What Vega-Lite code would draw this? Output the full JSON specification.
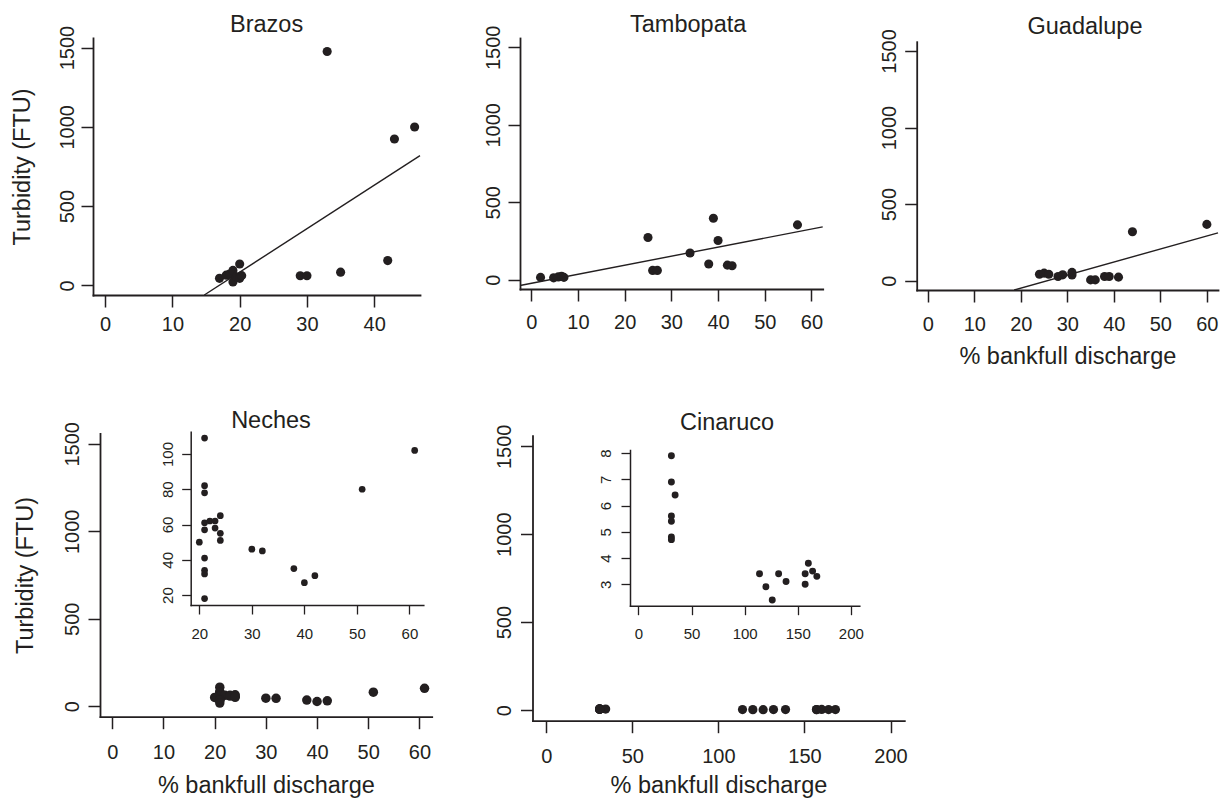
{
  "$schema": "https://vega.github.io/schema/vega-lite/v6.json",
  "width": 1225,
  "height": 799,
  "padding": 0,
  "autosize": {"type": "none"},
  "background": "white",
  "config": {
    "view": {"stroke": null},
    "font": "Liberation Sans",
    "axis": {
      "grid": false,
      "format": "d",
      "domainColor": "#231f20",
      "domainWidth": 1.8,
      "domainCap": "square",
      "tickColor": "#231f20",
      "tickWidth": 1.5,
      "labelColor": "#231f20",
      "labelFont": "Liberation Sans",
      "labelFlush": false,
      "labelOverlap": false,
      "labelBound": false,
      "titleColor": "#231f20",
      "titleFont": "Liberation Sans",
      "titleFontWeight": "normal",
      "titleFontSize": 23.5
    }
  },
  "datasets": {
    "brazos": [
      {"discharge": 17, "turbidity": 45}, {"discharge": 18, "turbidity": 65}, {"discharge": 18.5, "turbidity": 72},
      {"discharge": 19, "turbidity": 95}, {"discharge": 19, "turbidity": 22}, {"discharge": 19.5, "turbidity": 55},
      {"discharge": 20, "turbidity": 45}, {"discharge": 20, "turbidity": 135}, {"discharge": 20.3, "turbidity": 62},
      {"discharge": 29, "turbidity": 61}, {"discharge": 30, "turbidity": 61}, {"discharge": 33, "turbidity": 1475},
      {"discharge": 35, "turbidity": 84}, {"discharge": 42, "turbidity": 157}, {"discharge": 43, "turbidity": 923},
      {"discharge": 46, "turbidity": 999}
    ],
    "brazos_fit": [{"discharge": 14.74, "turbidity": -60}, {"discharge": 46.8, "turbidity": 818}],
    "tambopata": [
      {"discharge": 2, "turbidity": 15}, {"discharge": 4.8, "turbidity": 12}, {"discharge": 5.8, "turbidity": 18},
      {"discharge": 6.5, "turbidity": 22}, {"discharge": 7, "turbidity": 15}, {"discharge": 25, "turbidity": 272},
      {"discharge": 26, "turbidity": 60}, {"discharge": 27, "turbidity": 60}, {"discharge": 34, "turbidity": 172},
      {"discharge": 38, "turbidity": 101}, {"discharge": 39, "turbidity": 397}, {"discharge": 40, "turbidity": 253},
      {"discharge": 42, "turbidity": 94}, {"discharge": 43, "turbidity": 90}, {"discharge": 57, "turbidity": 354}
    ],
    "tambopata_fit": [{"discharge": -2.4, "turbidity": -37.5}, {"discharge": 62.4, "turbidity": 341}],
    "guadalupe": [
      {"discharge": 24, "turbidity": 43}, {"discharge": 25, "turbidity": 50}, {"discharge": 26, "turbidity": 43},
      {"discharge": 28, "turbidity": 28}, {"discharge": 29, "turbidity": 39}, {"discharge": 31, "turbidity": 55},
      {"discharge": 31, "turbidity": 38}, {"discharge": 35, "turbidity": 6}, {"discharge": 36, "turbidity": 6},
      {"discharge": 38, "turbidity": 28}, {"discharge": 39, "turbidity": 28}, {"discharge": 41, "turbidity": 24},
      {"discharge": 44, "turbidity": 320}, {"discharge": 60, "turbidity": 368}
    ],
    "guadalupe_fit": [{"discharge": 18.57, "turbidity": -60}, {"discharge": 62.4, "turbidity": 313}],
    "neches": [
      {"discharge": 21, "turbidity": 109}, {"discharge": 21, "turbidity": 82}, {"discharge": 21, "turbidity": 78},
      {"discharge": 21, "turbidity": 61}, {"discharge": 21, "turbidity": 57}, {"discharge": 20, "turbidity": 50},
      {"discharge": 22, "turbidity": 62}, {"discharge": 23, "turbidity": 62}, {"discharge": 23, "turbidity": 58},
      {"discharge": 24, "turbidity": 65}, {"discharge": 24, "turbidity": 55}, {"discharge": 24, "turbidity": 51},
      {"discharge": 21, "turbidity": 41}, {"discharge": 21, "turbidity": 34}, {"discharge": 21, "turbidity": 32},
      {"discharge": 21, "turbidity": 18}, {"discharge": 30, "turbidity": 46}, {"discharge": 32, "turbidity": 45},
      {"discharge": 38, "turbidity": 35}, {"discharge": 40, "turbidity": 27}, {"discharge": 42, "turbidity": 31},
      {"discharge": 51, "turbidity": 80}, {"discharge": 61, "turbidity": 102}
    ],
    "cinaruco": [
      {"discharge": 31, "turbidity": 7.9}, {"discharge": 31, "turbidity": 6.9}, {"discharge": 34.5, "turbidity": 6.4},
      {"discharge": 31, "turbidity": 5.6}, {"discharge": 31, "turbidity": 5.4}, {"discharge": 31, "turbidity": 4.8},
      {"discharge": 31, "turbidity": 4.7}, {"discharge": 114, "turbidity": 3.4}, {"discharge": 120, "turbidity": 2.9},
      {"discharge": 126, "turbidity": 2.4}, {"discharge": 132, "turbidity": 3.4}, {"discharge": 139, "turbidity": 3.1},
      {"discharge": 157, "turbidity": 3.4}, {"discharge": 157, "turbidity": 3.0}, {"discharge": 160, "turbidity": 3.8},
      {"discharge": 164, "turbidity": 3.5}, {"discharge": 168, "turbidity": 3.3}
    ]
  },
  "layer": [
    {
      "data": {"name": "brazos"},
      "mark": {"type": "circle", "size": 83, "opacity": 1, "color": "#231f20"},
      "encoding": {
        "x": {"field": "discharge", "type": "quantitative",
          "scale": {"domain": [-1.8, 46.8], "range": [93, 420], "nice": false, "zero": false},
          "axis": {"orient": "bottom", "offset": -504, "values": [0, 10, 20, 30, 40], "tickSize": 12, "labelFontSize": 20, "labelPadding": 7, "title": null}},
        "y": {"field": "turbidity", "type": "quantitative",
          "scale": {"domain": [-60, 1560], "range": [295, 38], "nice": false, "zero": false},
          "axis": {"orient": "left", "offset": -93, "values": [0, 500, 1000, 1500], "tickSize": 12, "labelFontSize": 20, "labelAngle": 270, "labelAlign": "center", "labelBaseline": "bottom", "labelPadding": 4, "title": "Turbidity (FTU)", "titlePadding": 23, "titleBaseline": "bottom"}}
      }
    },
    {
      "data": {"name": "brazos_fit"},
      "mark": {"type": "line", "color": "#231f20", "strokeWidth": 1.4},
      "encoding": {
        "x": {"field": "discharge", "type": "quantitative", "axis": null,
          "scale": {"domain": [-1.8, 46.8], "range": [93, 420], "nice": false, "zero": false}},
        "y": {"field": "turbidity", "type": "quantitative", "axis": null,
          "scale": {"domain": [-60, 1560], "range": [295, 38], "nice": false, "zero": false}}
      }
    },
    {
      "data": {"values": [{"name": "Brazos"}]},
      "mark": {"type": "text", "fontSize": 23.5, "align": "center", "baseline": "alphabetic", "color": "#231f20", "font": "Liberation Sans"},
      "encoding": {
        "x": {"datum": 24, "type": "quantitative", "axis": null,
          "scale": {"domain": [-1.8, 46.8], "range": [93, 420], "nice": false, "zero": false}},
        "y": {"datum": 1596, "type": "quantitative", "axis": null,
          "scale": {"domain": [-60, 1560], "range": [295, 38], "nice": false, "zero": false}},
        "text": {"field": "name"}
      }
    },
    {
      "data": {"name": "tambopata"},
      "mark": {"type": "circle", "size": 83, "opacity": 1, "color": "#231f20"},
      "encoding": {
        "x": {"field": "discharge", "type": "quantitative",
          "scale": {"domain": [-2.4, 62.4], "range": [520, 822.7], "nice": false, "zero": false},
          "axis": {"orient": "bottom", "offset": -510, "values": [0, 10, 20, 30, 40, 50, 60], "tickSize": 12, "labelFontSize": 20, "labelPadding": 11, "title": null}},
        "y": {"field": "turbidity", "type": "quantitative",
          "scale": {"domain": [-60, 1560], "range": [289, 38], "nice": false, "zero": false},
          "axis": {"orient": "left", "offset": -520, "values": [0, 500, 1000, 1500], "tickSize": 12, "labelFontSize": 20, "labelAngle": 270, "labelAlign": "center", "labelBaseline": "bottom", "labelPadding": 5, "title": null}}
      }
    },
    {
      "data": {"name": "tambopata_fit"},
      "mark": {"type": "line", "color": "#231f20", "strokeWidth": 1.4},
      "encoding": {
        "x": {"field": "discharge", "type": "quantitative", "axis": null,
          "scale": {"domain": [-2.4, 62.4], "range": [520, 822.7], "nice": false, "zero": false}},
        "y": {"field": "turbidity", "type": "quantitative", "axis": null,
          "scale": {"domain": [-60, 1560], "range": [289, 38], "nice": false, "zero": false}}
      }
    },
    {
      "data": {"values": [{"name": "Tambopata"}]},
      "mark": {"type": "text", "fontSize": 23.5, "align": "center", "baseline": "alphabetic", "color": "#231f20", "font": "Liberation Sans"},
      "encoding": {
        "x": {"datum": 33.6, "type": "quantitative", "axis": null,
          "scale": {"domain": [-2.4, 62.4], "range": [520, 822.7], "nice": false, "zero": false}},
        "y": {"datum": 1597, "type": "quantitative", "axis": null,
          "scale": {"domain": [-60, 1560], "range": [289, 38], "nice": false, "zero": false}},
        "text": {"field": "name"}
      }
    },
    {
      "data": {"name": "guadalupe"},
      "mark": {"type": "circle", "size": 83, "opacity": 1, "color": "#231f20"},
      "encoding": {
        "x": {"field": "discharge", "type": "quantitative",
          "scale": {"domain": [-2.4, 62.4], "range": [916.7, 1218], "nice": false, "zero": false},
          "axis": {"orient": "bottom", "offset": -509, "values": [0, 10, 20, 30, 40, 50, 60], "tickSize": 12, "labelFontSize": 20, "labelPadding": 12, "title": "% bankfull discharge", "titlePadding": 10}},
        "y": {"field": "turbidity", "type": "quantitative",
          "scale": {"domain": [-60, 1560], "range": [290, 41.7], "nice": false, "zero": false},
          "axis": {"orient": "left", "offset": -916.7, "values": [0, 500, 1000, 1500], "tickSize": 12, "labelFontSize": 20, "labelAngle": 270, "labelAlign": "center", "labelBaseline": "bottom", "labelPadding": 5, "title": null}}
      }
    },
    {
      "data": {"name": "guadalupe_fit"},
      "mark": {"type": "line", "color": "#231f20", "strokeWidth": 1.4},
      "encoding": {
        "x": {"field": "discharge", "type": "quantitative", "axis": null,
          "scale": {"domain": [-2.4, 62.4], "range": [916.7, 1218], "nice": false, "zero": false}},
        "y": {"field": "turbidity", "type": "quantitative", "axis": null,
          "scale": {"domain": [-60, 1560], "range": [290, 41.7], "nice": false, "zero": false}}
      }
    },
    {
      "data": {"values": [{"name": "Guadalupe"}]},
      "mark": {"type": "text", "fontSize": 23.5, "align": "center", "baseline": "alphabetic", "color": "#231f20", "font": "Liberation Sans"},
      "encoding": {
        "x": {"datum": 33.8, "type": "quantitative", "axis": null,
          "scale": {"domain": [-2.4, 62.4], "range": [916.7, 1218], "nice": false, "zero": false}},
        "y": {"datum": 1608, "type": "quantitative", "axis": null,
          "scale": {"domain": [-60, 1560], "range": [290, 41.7], "nice": false, "zero": false}},
        "text": {"field": "name"}
      }
    },
    {
      "data": {"name": "neches"},
      "mark": {"type": "circle", "size": 90, "opacity": 1, "color": "#231f20"},
      "encoding": {
        "x": {"field": "discharge", "type": "quantitative",
          "scale": {"domain": [-2.4, 62.4], "range": [100, 431.7], "nice": false, "zero": false},
          "axis": {"orient": "bottom", "offset": -82.3, "values": [0, 10, 20, 30, 40, 50, 60], "tickSize": 12, "labelFontSize": 20, "labelPadding": 14, "title": "% bankfull discharge", "titlePadding": 11}},
        "y": {"field": "turbidity", "type": "quantitative",
          "scale": {"domain": [-60, 1560], "range": [716.7, 433.3], "nice": false, "zero": false},
          "axis": {"orient": "left", "offset": -100, "values": [0, 500, 1000, 1500], "tickSize": 12, "labelFontSize": 20, "labelAngle": 270, "labelAlign": "center", "labelBaseline": "bottom", "labelPadding": 6, "title": "Turbidity (FTU)", "titlePadding": 25, "titleBaseline": "bottom"}}
      }
    },
    {
      "data": {"values": [{"name": "Neches"}]},
      "mark": {"type": "text", "fontSize": 23.5, "align": "center", "baseline": "alphabetic", "color": "#231f20", "font": "Liberation Sans"},
      "encoding": {
        "x": {"datum": 31.0, "type": "quantitative", "axis": null,
          "scale": {"domain": [-2.4, 62.4], "range": [100, 431.7], "nice": false, "zero": false}},
        "y": {"datum": 1592, "type": "quantitative", "axis": null,
          "scale": {"domain": [-60, 1560], "range": [716.7, 433.3], "nice": false, "zero": false}},
        "text": {"field": "name"}
      }
    },
    {
      "data": {"name": "neches"},
      "mark": {"type": "circle", "size": 45, "opacity": 1, "color": "#231f20"},
      "encoding": {
        "x": {"field": "discharge", "type": "quantitative",
          "scale": {"domain": [18.36, 62.64], "range": [190.7, 423.3], "nice": false, "zero": false},
          "axis": {"orient": "bottom", "offset": -194, "values": [20, 30, 40, 50, 60], "tickSize": 9, "tickWidth": 1.3, "domainWidth": 1.5, "labelFontSize": 15, "labelPadding": 12, "title": null}},
        "y": {"field": "turbidity", "type": "quantitative",
          "scale": {"domain": [14.36, 112.64], "range": [605, 431.7], "nice": false, "zero": false},
          "axis": {"orient": "left", "offset": -190.7, "values": [20, 40, 60, 80, 100], "tickSize": 9, "tickWidth": 1.3, "domainWidth": 1.5, "labelFontSize": 15, "labelAngle": 270, "labelAlign": "center", "labelBaseline": "bottom", "labelPadding": 6, "title": null}}
      }
    },
    {
      "data": {"name": "cinaruco"},
      "mark": {"type": "circle", "size": 85, "opacity": 1, "color": "#231f20"},
      "encoding": {
        "x": {"field": "discharge", "type": "quantitative",
          "scale": {"domain": [-8, 208], "range": [532.5, 904.3], "nice": false, "zero": false},
          "axis": {"orient": "bottom", "offset": -78.3, "values": [0, 50, 100, 150, 200], "tickSize": 12, "labelFontSize": 20, "labelPadding": 14, "title": "% bankfull discharge", "titlePadding": 7}},
        "y": {"field": "turbidity", "type": "quantitative",
          "scale": {"domain": [-60, 1560], "range": [720.7, 435.7], "nice": false, "zero": false},
          "axis": {"orient": "left", "offset": -532.5, "values": [0, 500, 1000, 1500], "tickSize": 12, "labelFontSize": 20, "labelAngle": 270, "labelAlign": "center", "labelBaseline": "bottom", "labelPadding": 6, "title": null}}
      }
    },
    {
      "data": {"values": [{"name": "Cinaruco"}]},
      "mark": {"type": "text", "fontSize": 23.5, "align": "center", "baseline": "alphabetic", "color": "#231f20", "font": "Liberation Sans"},
      "encoding": {
        "x": {"datum": 105, "type": "quantitative", "axis": null,
          "scale": {"domain": [-8, 208], "range": [532.5, 904.3], "nice": false, "zero": false}},
        "y": {"datum": 1592, "type": "quantitative", "axis": null,
          "scale": {"domain": [-60, 1560], "range": [720.7, 435.7], "nice": false, "zero": false}},
        "text": {"field": "name"}
      }
    },
    {
      "data": {"name": "cinaruco"},
      "mark": {"type": "circle", "size": 48, "opacity": 1, "color": "#231f20"},
      "encoding": {
        "x": {"field": "discharge", "type": "quantitative",
          "scale": {"domain": [-8, 208], "range": [630, 859.3], "nice": false, "zero": false},
          "axis": {"orient": "bottom", "offset": -193.3, "values": [0, 50, 100, 150, 200], "tickSize": 9, "tickWidth": 1.3, "domainWidth": 1.5, "labelFontSize": 15, "labelPadding": 12, "title": null}},
        "y": {"field": "turbidity", "type": "quantitative",
          "scale": {"domain": [2.18, 8.12], "range": [605.7, 450], "nice": false, "zero": false},
          "axis": {"orient": "left", "offset": -630, "values": [3, 4, 5, 6, 7, 8], "tickSize": 9, "tickWidth": 1.3, "domainWidth": 1.5, "labelFontSize": 15, "labelAngle": 270, "labelAlign": "center", "labelBaseline": "bottom", "labelPadding": 8, "title": null}}
      }
    }
  ],
  "resolve": {
    "scale": {"x": "independent", "y": "independent"},
    "axis": {"x": "independent", "y": "independent"}
  }
}
